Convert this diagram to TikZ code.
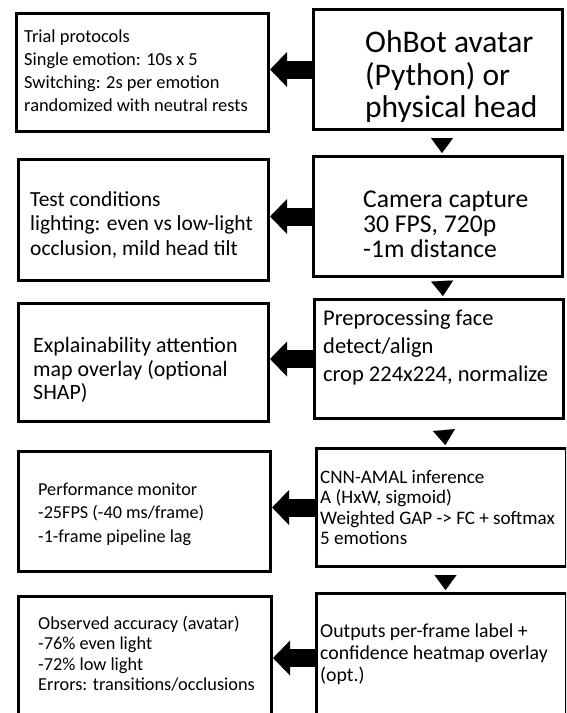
\documentclass[tikz,border=0pt]{standalone}
\usepackage{fontspec}
\setmainfont{Carlito}
\usetikzlibrary{arrows.meta,calc}
\begin{document}
\begin{tikzpicture}[x=1pt,y=-1pt,
  box/.style={draw, line width=3pt, rectangle, inner sep=0pt},
  txt/.style={anchor=north west, align=left, inner sep=0pt},
  blockarrow/.style={line width=18pt, -{Triangle[length=17pt,width=34pt]}},
  downtri/.style={line width=0.01pt, shorten >=2pt, shorten <=#1, -{Triangle[length=15pt,width=22pt]}}]
\useasboundingbox (0,0) rectangle (566,713);
\clip (0,0) rectangle (566,713);
% left boxes
\node[box, minimum width=252pt, minimum height=118pt] (L1) at (142.5,72.5) {};
\node[box, minimum width=250pt, minimum height=121pt] (L2) at (143.5,220) {};
\node[box, minimum width=250pt, minimum height=118pt] (L3) at (143.5,362.5) {};
\node[box, minimum width=252pt, minimum height=120pt] (L4) at (144.5,511.5) {};
\node[box, minimum width=253pt, minimum height=126pt] (L5) at (145,659.5) {};
% right boxes
\node[box, minimum width=249pt, minimum height=120pt] (R1) at (438,69.5) {};
\node[box, minimum width=249pt, minimum height=120pt] (R2) at (438,216.5) {};
\node[box, minimum width=249pt, minimum height=119pt] (R3) at (439,359) {};
\node[box, minimum width=250pt, minimum height=118pt] (R4) at (441.5,507.5) {};
\node[box, minimum width=250pt, minimum height=129pt] (R5) at (441.5,658) {};
% texts
\node[txt, font=\fontsize{18.4}{23}\selectfont] (T1) at (24,29.5)
  {Trial protocols\\Single emotion: 10s x 5\\Switching: 2s per emotion\\randomized with neutral rests};
\node[txt, font=\fontsize{21.5}{24.5}\selectfont] (T2) at (30,191.3)
  {Test conditions\\lighting: even vs low-light\\occlusion, mild head tilt};
\node[txt, font=\fontsize{21.9}{23.5}\selectfont] (T3) at (33,337.5)
  {Explainability attention\\map overlay (optional\\SHAP)};
\node[txt, font=\fontsize{18.2}{23.5}\selectfont] (T4) at (38,482.5)
  {Performance monitor\\-25FPS (-40 ms/frame)\\-1-frame pipeline lag};
\node[txt, font=\fontsize{18.3}{20.5}\selectfont] (T5) at (38,615.5)
  {Observed accuracy (avatar)\\-76\% even light\\-72\% low light\\Errors: transitions/occlusions};
\node[txt, font=\fontsize{31.5}{32.5}\selectfont] (U1) at (365,30.5)
  {OhBot avatar\\(Python) or\\physical head};
\node[txt, font=\fontsize{25.6}{25}\selectfont] (U2) at (363,190.3)
  {Camera capture\\30 FPS, 720p\\-1m distance};
\node[txt, font=\fontsize{22.5}{28.2}\selectfont] (U3) at (323,309.5)
  {Preprocessing face\\detect/align\\crop 224x224, normalize};
\node[txt, font=\fontsize{19.1}{20.5}\selectfont] (U4) at (320,470)
  {CNN-AMAL inference\\A (HxW, sigmoid)\\Weighted GAP -> FC + softmax\\5 emotions};
\node[txt, font=\fontsize{19.8}{22}\selectfont] (U5) at (320,623.5)
  {Outputs per-frame label +\\confidence heatmap overlay\\(opt.)};
% block arrows to the left
\foreach \i in {1,...,5}{
  \draw[blockarrow] (R\i.west) -- (R\i.west -| L\i.east);
}
% down triangles
\draw[downtri=6.5pt] ([xshift=4pt]R1.south) -- ([xshift=4pt]R2.north);
\draw[downtri=2.5pt] ([xshift=4pt]R2.south) -- ([xshift=4pt]R3.north);
\draw[downtri=9.5pt] ([xshift=4pt]R3.south) -- ([xshift=4pt]R4.north);
\draw[downtri=6.5pt] ([xshift=4pt]R4.south) -- ([xshift=4pt]R5.north);
\end{tikzpicture}
\end{document}
